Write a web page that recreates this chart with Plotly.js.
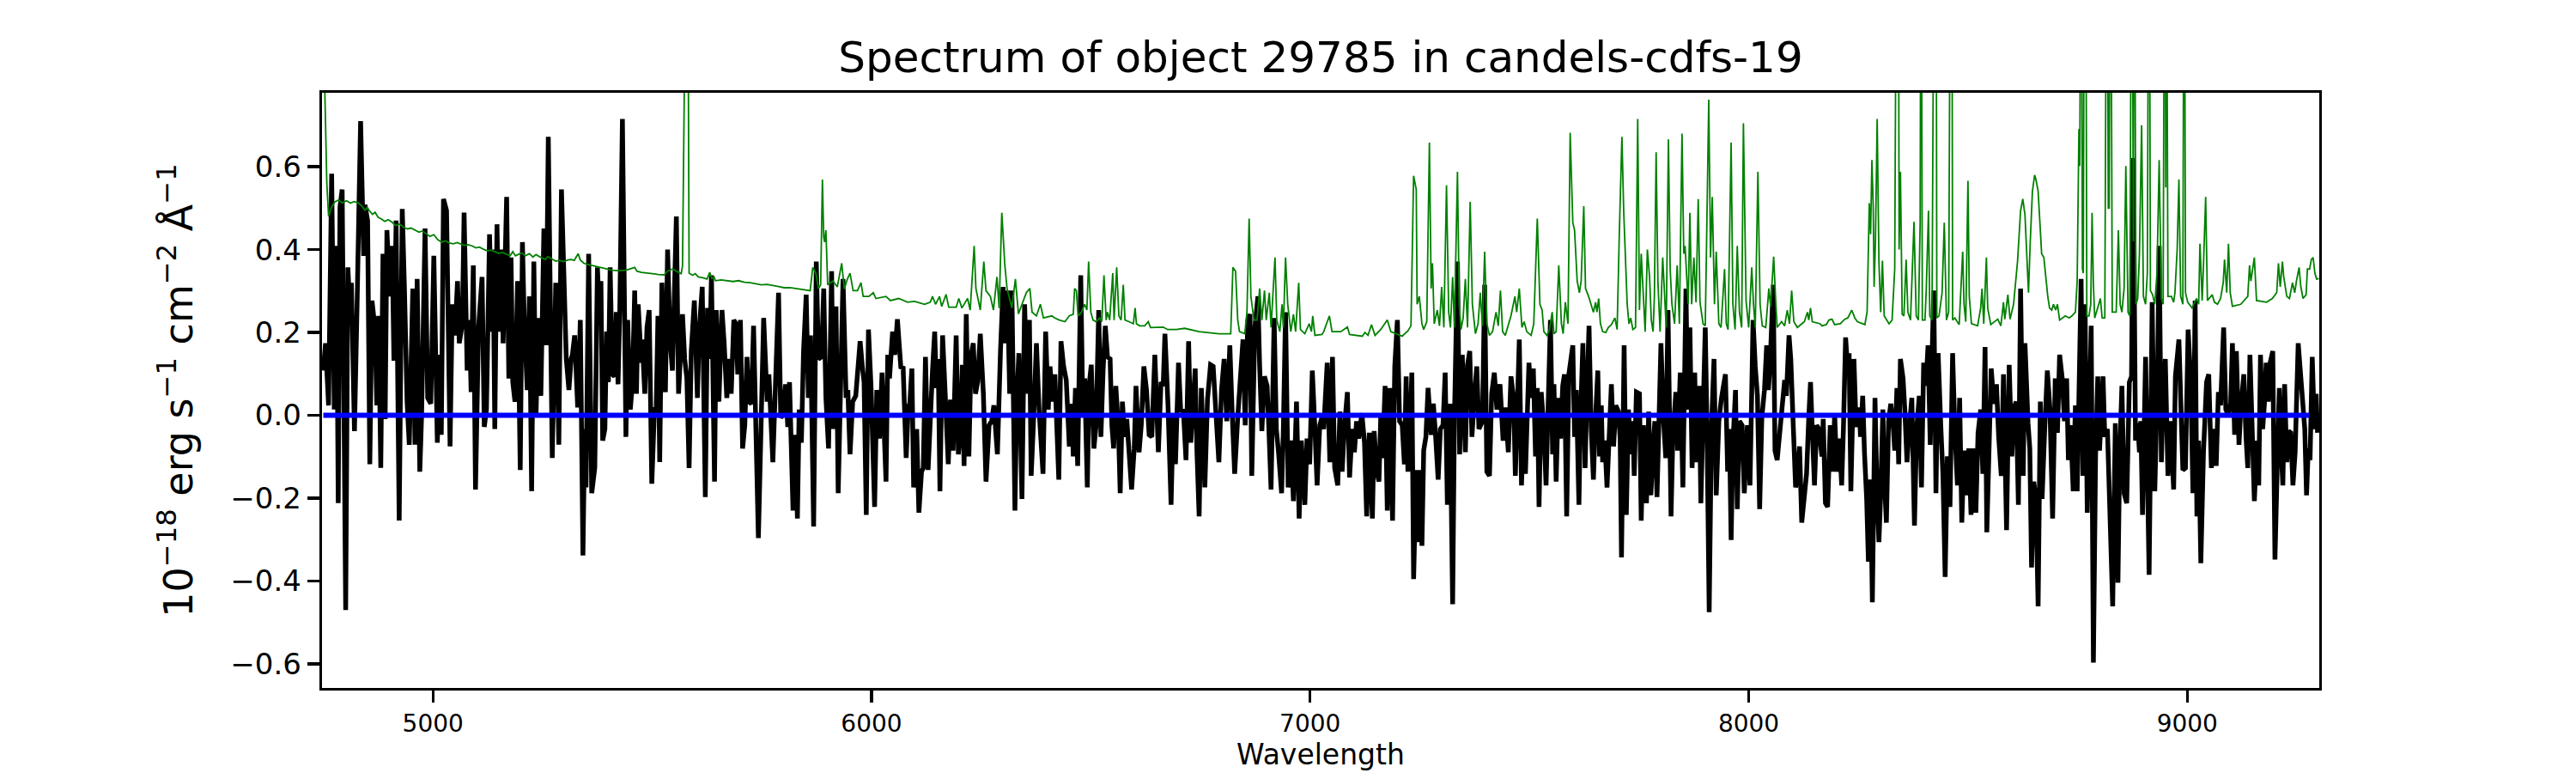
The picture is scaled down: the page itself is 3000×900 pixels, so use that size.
<!DOCTYPE html>
<html>
<head>
<meta charset="utf-8">
<script src="https://cdn.plot.ly/plotly-3.0.1.min.js"></script>
<style>html,body{margin:0;padding:0;background:#fff}#chart{width:3000px;height:900px}</style>
</head>
<body>
<div id="chart"></div>
<script>
// Observed flux (wavelength in Angstrom, flux in 1e-18 erg/s/cm2/A)
const spectrumSamples = [
[4750,0.108],[4755,0.174],[4762,0.024],[4769,0.583],[4775,0.014],[4780,0.409],[4784,-0.212],[4788,0.503],[4793,0.545],[4801,-0.470],[4806,0.357],[4810,0.268],[4814,0.320],[4821,-0.038],[4827,0.268],[4835,0.710],[4842,0.385],[4845,0.508],[4851,0.470],[4856,-0.118],[4861,0.277],[4868,0.207],[4872,0.024],[4876,0.240],[4881,-0.127],[4886,0.390],[4891,-0.009],[4895,0.447],[4902,0.287],[4907,0.409],[4911,0.132],[4916,0.470],[4923,-0.254],[4930,0.498],[4935,0.306],[4941,0.033],[4946,-0.071],[4954,0.306],[4959,-0.071],[4964,0.329],[4970,-0.136],[4974,-0.005],[4982,0.451],[4988,0.042],[4995,0.028],[5002,0.385],[5010,-0.066],[5015,0.146],[5019,-0.047],[5024,0.522],[5031,0.494],[5039,-0.075],[5044,0.268],[5050,0.193],[5056,0.324],[5060,0.174],[5067,0.221],[5071,0.489],[5078,0.108],[5083,0.230],[5087,0.056],[5092,0.362],[5097,-0.179],[5104,0.212],[5112,0.334],[5117,-0.028],[5122,0.014],[5129,0.437],[5134,0.202],[5137,0.400],[5141,-0.033],[5146,0.461],[5150,0.202],[5155,0.400],[5160,0.174],[5168,0.527],[5173,0.089],[5178,0.381],[5182,0.080],[5187,0.033],[5193,0.324],[5199,-0.132],[5204,0.418],[5208,0.235],[5215,0.061],[5220,0.287],[5225,-0.183],[5230,0.371],[5235,-0.005],[5240,0.235],[5246,0.047],[5253,0.451],[5258,0.169],[5263,0.672],[5272,-0.103],[5280,0.320],[5287,-0.071],[5293,0.545],[5304,0.136],[5310,0.061],[5315,0.136],[5318,0.146],
[5323,0.193],[5330,0.019],[5336,0.230],[5342,-0.338],[5346,-0.033],[5349,-0.174],[5355,0.390],[5362,-0.188],[5369,-0.127],[5375,0.357],[5380,0.230],[5383,0.324],[5387,-0.061],[5392,-0.033],[5396,0.202],[5400,0.080],[5404,0.357],[5409,0.099],[5414,0.094],[5418,0.249],[5422,0.075],[5426,0.254],[5432,0.715],[5440,-0.052],[5444,0.230],[5450,0.014],[5455,0.080],[5460,0.301],[5464,0.052],[5468,0.268],[5475,0.127],[5477,0.183],[5483,0.052],[5488,0.212],[5493,0.254],[5499,-0.165],[5505,0.014],[5509,0.014],[5513,0.240],[5517,-0.113],[5522,0.320],[5530,0.056],[5535,0.400],[5541,0.174],[5546,0.108],[5555,0.480],[5560,0.052],[5565,0.136],[5569,0.244],[5574,0.136],[5579,0.089],[5584,-0.127],[5589,0.155],[5596,0.277],[5603,0.042],[5607,0.202],[5614,0.310],[5621,-0.197],[5626,0.259],[5631,0.136],[5635,0.338],[5642,-0.160],[5646,0.254],[5652,0.033],[5659,0.254],[5664,0.174],[5670,0.042],[5676,0.136],[5680,0.052],[5686,0.230],[5691,0.221],[5695,0.099],[5701,0.230],[5706,-0.080],[5711,-0.024],[5716,0.141],[5720,0.033],[5726,0.028],[5731,0.216],[5742,-0.296],[5749,0.061],[5754,0.235],[5762,0.033],[5766,0.099],[5775,-0.113],[5781,0.061],[5788,0.296],[5793,-0.005],[5798,0.000],[5804,0.075],[5809,-0.028],[5813,0.080],[5821,-0.230],[5826,-0.047],[5831,-0.249],[5835,0.014],[5840,-0.066],[5845,0.155],[5851,0.291],[5856,0.042],[5861,0.193],[5868,-0.268],[5874,0.371],[5879,0.136],[5886,0.141],[5891,0.306],
[5896,0.042],[5902,-0.080],[5909,0.348],[5913,-0.033],[5919,0.263],[5924,-0.188],[5929,0.061],[5935,0.329],[5942,0.042],[5946,0.061],[5951,-0.094],[5957,0.033],[5964,0.047],[5970,0.146],[5974,0.179],[5979,0.118],[5983,0.080],[5988,-0.240],[5993,0.207],[5999,0.066],[6007,-0.221],[6012,0.061],[6018,-0.056],[6024,0.103],[6033,-0.160],[6037,0.146],[6041,0.089],[6048,0.202],[6053,0.146],[6059,0.232],[6067,0.113],[6072,0.118],[6079,-0.103],[6084,0.028],[6087,0.024],[6092,0.113],[6096,-0.174],[6103,-0.033],[6108,-0.235],[6114,-0.136],[6118,-0.127],[6123,0.141],[6129,-0.132],[6139,0.108],[6144,0.202],[6148,0.066],[6152,0.136],[6156,-0.183],[6162,0.193],[6168,0.052],[6175,-0.118],[6180,0.038],[6186,-0.085],[6193,0.193],[6198,-0.094],[6203,-0.033],[6207,0.122],[6211,-0.122],[6216,0.244],[6222,-0.099],[6227,0.146],[6232,0.174],[6237,0.052],[6242,0.080],[6248,0.197],[6255,0.052],[6261,-0.160],[6268,-0.024],[6274,-0.014],[6279,0.024],[6287,-0.094],[6294,0.155],[6300,0.310],[6305,0.174],[6310,0.301],[6315,0.052],[6320,0.301],[6327,-0.230],[6331,0.033],[6336,0.150],[6343,-0.202],[6349,0.268],[6355,0.052],[6360,0.230],[6364,-0.146],[6369,-0.024],[6376,0.174],[6382,0.014],[6391,-0.141],[6397,0.202],[6403,0.014],[6407,0.118],[6413,0.033],[6418,0.099],[6427,-0.155],[6432,0.179],[6438,0.118],[6444,0.085],[6451,-0.075],[6456,0.028],[6460,-0.099],
[6465,0.066],[6470,-0.122],[6477,0.338],[6482,0.000],[6486,0.089],[6492,-0.174],[6496,0.071],[6501,0.122],[6507,-0.080],[6512,-0.024],[6518,0.254],[6523,-0.052],[6528,0.108],[6533,0.216],[6538,0.141],[6544,0.136],[6548,-0.024],[6552,-0.080],[6557,0.071],[6563,-0.033],[6567,-0.188],[6572,0.033],[6577,-0.052],[6582,-0.009],[6587,-0.085],[6593,-0.179],[6599,-0.080],[6603,0.071],[6610,-0.089],[6615,-0.024],[6621,0.118],[6627,0.061],[6633,-0.047],[6639,-0.052],[6646,0.146],[6649,0.061],[6654,-0.089],[6660,0.080],[6665,0.071],[6669,0.197],[6676,0.024],[6683,-0.216],[6688,0.005],[6693,-0.118],[6700,0.127],[6705,0.009],[6711,0.014],[6717,-0.108],[6723,0.179],[6728,-0.066],[6734,0.024],[6738,0.113],[6742,-0.089],[6747,-0.244],[6752,0.066],[6760,-0.174],[6766,0.038],[6773,0.122],[6779,0.118],[6786,0.014],[6792,-0.113],[6798,0.061],[6804,0.136],[6810,-0.014],[6817,0.169],[6822,0.014],[6828,-0.141],[6835,-0.005],[6841,0.108],[6847,0.183],[6852,-0.024],[6858,0.230],[6863,0.244],[6867,-0.146],[6874,0.212],[6881,0.287],[6885,0.118],[6890,-0.038],[6896,0.094],[6902,0.071],[6906,-0.033],[6911,-0.179],[6918,0.235],[6923,-0.033],[6928,-0.089],[6935,-0.188],[6939,-0.033],[6944,0.249],[6950,-0.174],[6956,-0.061],[6962,-0.207],[6969,0.033],[6975,-0.249],[6980,-0.061],[6988,-0.216],[6993,-0.056],[6999,-0.118],[7005,0.108],[7011,-0.033],[7016,-0.169],[7022,-0.024],[7027,-0.005],
[7031,-0.033],[7035,0.075],[7039,0.127],[7045,-0.113],[7051,0.141],[7056,-0.127],[7063,-0.169],[7068,0.009],[7073,-0.136],[7078,-0.033],[7085,0.056],[7090,-0.150],[7096,-0.033],[7101,-0.089],[7106,-0.014],[7111,-0.056],[7118,0.005],[7124,-0.066],[7129,-0.244],[7135,-0.042],[7142,-0.249],[7146,-0.038],[7152,-0.136],[7157,-0.160],[7161,-0.005],[7165,-0.103],[7171,0.071],[7176,-0.230],[7182,0.066],[7188,-0.254],[7193,0.118],[7199,0.230],[7204,-0.014],[7210,-0.024],[7215,-0.118],[7219,0.094],[7223,-0.136],[7228,-0.033],[7232,0.103],[7236,-0.395],[7242,-0.132],[7247,-0.306],[7251,-0.132],[7255,-0.315],[7259,-0.085],[7264,-0.052],[7269,0.066],[7276,-0.047],[7281,0.028],[7286,-0.047],[7292,-0.155],[7297,-0.033],[7303,-0.024],[7308,0.103],[7313,-0.216],[7319,0.028],[7325,-0.456],[7329,-0.014],[7336,0.371],[7341,-0.094],[7347,0.146],[7354,-0.089],[7359,0.122],[7364,0.155],[7369,-0.052],[7375,0.052],[7380,0.118],[7385,-0.033],[7393,-0.014],[7398,0.315],[7403,-0.136],[7409,-0.146],[7414,0.052],[7420,0.103],[7426,0.014],[7433,0.075],[7440,-0.061],[7445,0.019],[7452,-0.089],[7458,0.094],[7464,0.042],[7468,-0.146],[7473,0.061],[7477,0.183],[7482,-0.169],[7487,-0.005],[7491,-0.141],[7499,0.127],[7504,0.042],[7509,0.113],[7514,-0.099],[7518,0.066],[7522,-0.221],[7527,0.056],[7533,-0.033],[7538,-0.169],[7543,0.033],[7548,0.230],[7553,-0.094],[7556,0.075],[7561,-0.160],[7566,0.042],[7571,-0.056],[7576,0.071],[7580,0.099],[7585,-0.244],[7590,0.099],
[7599,0.169],[7603,-0.052],[7607,0.061],[7613,-0.216],[7616,-0.024],[7622,0.174],[7627,-0.127],[7631,0.042],[7636,0.216],[7641,-0.033],[7646,-0.155],[7650,-0.024],[7656,0.108],[7660,-0.099],[7664,0.024],[7667,-0.113],[7672,-0.061],[7677,-0.174],[7682,-0.052],[7687,0.075],[7692,-0.075],[7697,0.024],[7703,0.009],[7707,-0.056],[7710,-0.343],[7716,0.169],[7721,-0.240],[7726,0.014],[7731,-0.094],[7736,-0.014],[7739,-0.146],[7744,0.056],[7751,0.052],[7755,-0.254],[7760,-0.024],[7767,-0.212],[7772,0.009],[7777,-0.193],[7781,-0.099],[7786,-0.014],[7791,-0.197],[7795,-0.024],[7800,0.174],[7806,-0.014],[7811,-0.103],[7816,0.254],[7823,-0.244],[7827,-0.052],[7834,0.056],[7838,-0.085],[7844,0.103],[7850,-0.174],[7857,0.306],[7861,0.014],[7866,0.212],[7871,-0.127],[7877,0.103],[7881,-0.113],[7887,0.071],[7891,-0.212],[7896,0.071],[7901,0.212],[7905,-0.033],[7910,-0.475],[7915,-0.033],[7921,0.136],[7926,-0.193],[7932,-0.014],[7938,0.042],[7947,0.099],[7952,-0.136],[7956,-0.033],[7960,-0.301],[7964,-0.071],[7970,0.061],[7974,-0.226],[7979,-0.014],[7985,-0.024],[7990,-0.188],[7997,-0.024],[8003,-0.169],[8010,0.230],[8015,0.118],[8020,0.047],[8025,-0.226],[8030,-0.005],[8036,0.061],[8041,0.169],[8045,0.061],[8049,0.127],[8056,0.315],[8060,-0.085],[8065,-0.108],[8071,-0.042],[8076,0.014],[8082,0.085],[8086,0.047],[8092,0.193],[8096,0.136],[8101,-0.033],[8107,-0.174],[8111,-0.146],[8116,-0.075],[8121,-0.259],[8126,-0.202],[8132,-0.141],[8137,-0.005],[8141,0.080],[8145,-0.033],[8150,-0.169],[8155,-0.024],[8160,-0.033],
[8167,-0.099],[8170,-0.009],[8175,-0.212],[8180,-0.221],[8186,-0.024],[8192,-0.136],[8196,0.005],[8201,-0.136],[8207,-0.056],[8212,-0.169],[8216,-0.033],[8221,0.188],[8226,0.108],[8229,0.150],[8233,-0.183],[8240,0.136],[8245,-0.028],[8252,0.019],[8255,-0.052],[8260,0.047],[8264,-0.089],[8269,-0.202],[8273,-0.353],[8278,-0.155],[8282,-0.451],[8288,0.042],[8293,-0.202],[8297,-0.306],[8301,-0.188],[8306,0.014],[8309,-0.146],[8314,-0.259],[8319,-0.014],[8324,0.028],[8330,-0.033],[8333,-0.085],[8338,0.066],[8342,-0.118],[8346,0.136],[8352,0.089],[8356,0.014],[8361,-0.113],[8366,-0.033],[8372,0.042],[8378,-0.266],[8383,-0.033],[8389,0.047],[8394,-0.174],[8399,0.127],[8404,0.071],[8409,0.169],[8414,-0.071],[8418,0.136],[8422,0.301],[8427,-0.188],[8432,0.150],[8438,-0.024],[8443,-0.146],[8448,-0.390],[8453,-0.099],[8459,-0.221],[8465,0.150],[8470,-0.033],[8476,-0.169],[8481,0.042],[8486,-0.259],[8491,-0.085],[8496,-0.193],[8502,-0.080],[8507,-0.240],[8513,-0.080],[8518,-0.235],[8523,-0.042],[8529,0.014],[8534,-0.141],[8539,0.165],[8543,-0.282],[8549,-0.024],[8553,0.113],[8559,0.028],[8565,0.075],[8570,-0.052],[8576,-0.146],[8581,0.099],[8588,-0.277],[8594,0.122],[8600,-0.099],[8605,0.019],[8610,0.033],[8615,-0.216],[8620,0.306],[8626,-0.146],[8630,0.174],[8637,-0.019],[8641,-0.080],[8645,-0.367],[8650,-0.160],[8655,-0.202],[8660,-0.461],[8665,0.033],[8669,-0.202],[8675,-0.033],[8681,0.108],[8687,0.014],[8693,-0.249],[8699,0.089],[8704,-0.042],[8709,0.146],[8715,0.089],[8720,-0.014],[8725,0.089],[8729,-0.108],
[8734,-0.024],[8740,-0.183],[8745,0.024],[8749,-0.183],[8753,0.061],[8758,0.329],[8762,-0.146],[8767,0.268],[8772,-0.235],[8776,-0.005],[8781,0.216],[8786,-0.597],[8791,-0.099],[8796,0.094],[8800,-0.085],[8808,0.094],[8812,-0.052],[8818,-0.033],[8823,-0.207],[8830,-0.461],[8836,-0.019],[8842,-0.404],[8846,-0.094],[8851,0.071],[8856,-0.188],[8862,-0.212],[8868,0.080],[8873,0.094],[8877,0.621],[8882,-0.061],[8887,-0.019],[8891,-0.089],[8894,-0.014],[8898,-0.240],[8905,0.141],[8913,-0.385],[8920,0.273],[8926,-0.183],[8932,0.080],[8936,0.409],[8941,-0.113],[8945,0.052],[8950,0.136],[8956,-0.146],[8962,-0.014],[8969,-0.179],[8973,0.094],[8981,0.183],[8985,0.042],[8990,-0.132],[8996,-0.127],[9002,0.207],[9008,0.080],[9013,-0.188],[9018,0.277],[9022,-0.244],[9026,-0.061],[9031,-0.357],[9037,-0.089],[9044,0.080],[9049,0.099],[9055,-0.127],[9060,-0.033],[9066,-0.122],[9071,0.056],[9076,0.024],[9083,0.212],[9088,0.014],[9094,0.000],[9099,0.028],[9103,0.174],[9108,-0.047],[9112,0.155],[9118,-0.071],[9122,0.014],[9129,0.099],[9134,-0.052],[9138,-0.127],[9143,0.146],[9148,-0.033],[9153,-0.207],[9159,-0.061],[9163,-0.169],[9167,0.146],[9172,-0.033],[9176,0.028],[9180,0.127],[9185,0.033],[9189,0.127],[9195,0.155],[9200,-0.348],[9206,-0.089],[9210,0.066],[9214,-0.080],[9218,-0.169],[9222,0.075],[9227,-0.113],[9231,-0.038],[9236,-0.042],[9241,-0.169],[9246,-0.089],[9253,0.174],[9258,0.094],[9263,0.005],[9268,-0.033],[9272,-0.193],[9276,-0.080],[9280,-0.108],[9285,0.141],[9290,-0.033],[9294,0.052],[9297,-0.042]
];

// Noise / sky spectrum (green)
const noiseSamples = [
[4750,0.95],[4754,0.78],[4758,0.56],[4762,0.48],[4768,0.50],[4776,0.515],[4785,0.52],[4793,0.513],[4803,0.518],[4812,0.512],[4820,0.516],[4829,0.513],[4838,0.505],[4845,0.495],[4850,0.502],[4855,0.494],[4862,0.485],[4868,0.49],[4875,0.478],[4881,0.475],[4890,0.468],[4898,0.472],[4907,0.466],[4915,0.458],[4924,0.462],[4933,0.454],[4942,0.45],[4950,0.452],[4959,0.447],[4968,0.442],[4976,0.445],[4985,0.438],[4993,0.432],[5002,0.436],[5011,0.424],[5020,0.418],[5028,0.421],[5037,0.416],[5046,0.414],[5055,0.417],[5063,0.414],[5072,0.41],[5080,0.412],[5089,0.409],[5098,0.404],[5106,0.406],[5115,0.401],[5124,0.397],[5132,0.399],[5141,0.395],[5150,0.391],[5159,0.393],[5168,0.388],[5176,0.385],[5182,0.395],[5188,0.385],[5194,0.388],[5203,0.392],[5210,0.385],[5220,0.390],[5228,0.382],[5235,0.388],[5246,0.381],[5256,0.376],[5262,0.383],[5272,0.376],[5280,0.372],[5288,0.374],[5298,0.371],[5308,0.375],
[5315,0.376],[5322,0.374],[5331,0.39],[5336,0.375],[5344,0.367],[5357,0.363],[5370,0.360],[5383,0.357],[5396,0.354],[5409,0.350],[5422,0.349],[5440,0.350],[5460,0.357],[5465,0.348],[5475,0.345],[5488,0.343],[5501,0.342],[5514,0.340],[5527,0.339],[5535,0.348],[5546,0.353],[5556,0.348],[5566,0.342],[5569,0.36],[5573,1.5],[5580,1.5],[5584,0.343],[5592,0.338],[5598,0.342],[5605,0.334],[5615,0.332],[5625,0.329],[5631,0.345],[5636,0.330],[5641,0.334],[5644,0.325],[5657,0.327],[5670,0.325],[5684,0.323],[5697,0.325],[5710,0.321],[5723,0.320],[5736,0.318],[5749,0.315],[5762,0.316],[5775,0.314],[5788,0.311],[5801,0.308],[5814,0.308],[5827,0.306],[5843,0.303],[5860,0.301],[5866,0.357],[5873,0.343],[5879,0.306],[5884,0.315],[5888,0.569],[5891,0.43],
[5893,0.418],[5896,0.447],[5900,0.315],[5912,0.324],[5922,0.310],[5932,0.367],[5938,0.305],[5945,0.329],[5951,0.343],[5958,0.301],[5968,0.301],[5976,0.320],[5981,0.287],[5994,0.287],[6004,0.296],[6010,0.282],[6033,0.287],[6043,0.277],[6062,0.282],[6082,0.273],[6098,0.275],[6121,0.268],[6134,0.273],[6139,0.287],[6146,0.268],[6155,0.287],[6160,0.263],[6170,0.292],[6176,0.261],[6193,0.261],[6199,0.282],[6206,0.259],[6219,0.282],[6225,0.254],[6234,0.409],[6238,0.306],[6248,0.254],[6256,0.371],[6261,0.301],[6271,0.287],[6278,0.254],[6286,0.334],[6291,0.259],[6297,0.489],[6304,0.362],[6309,0.306],[6320,0.259],[6328,0.329],[6335,0.245],[6353,0.296],[6361,0.306],[6366,0.249],[6376,0.240],[6385,0.268],[6392,0.235],[6411,0.240],[6418,0.235],[6428,0.230],[6441,0.226],[6451,0.240],[6460,0.244],
[6463,0.306],[6467,0.301],[6471,0.240],[6479,0.249],[6486,0.268],[6491,0.254],[6495,0.371],[6500,0.249],[6505,0.230],[6512,0.226],[6520,0.235],[6525,0.226],[6530,0.338],[6535,0.230],[6538,0.249],[6543,0.230],[6550,0.343],[6553,0.230],[6559,0.357],[6564,0.240],[6569,0.230],[6574,0.315],[6578,0.230],[6587,0.226],[6597,0.221],[6601,0.259],[6604,0.221],[6611,0.216],[6623,0.216],[6631,0.226],[6636,0.212],[6665,0.213],[6675,0.207],[6695,0.207],[6714,0.210],[6747,0.202],[6792,0.197],[6819,0.197],[6824,0.357],[6830,0.348],[6835,0.230],[6839,0.202],[6851,0.197],[6856,0.249],[6861,0.475],[6865,0.287],[6872,0.230],[6879,0.230],[6885,0.306],[6890,0.230],[6896,0.301],[6900,0.230],[6907,0.296],[6911,0.212],[6920,0.381],[6924,0.230],[6931,0.202],[6936,0.268],[6939,0.212],[6944,0.381],[6949,0.268],[6956,0.202],[6962,0.244],[6967,0.202],[6974,0.320],[6978,0.207],[6988,0.197],[6998,0.221],[7003,0.202],[7006,0.240],[7011,0.193],[7027,0.195],
[7031,0.202],[7044,0.240],[7050,0.202],[7070,0.202],[7085,0.213],[7090,0.195],[7119,0.191],[7125,0.200],[7132,0.193],[7140,0.219],[7148,0.193],[7161,0.207],[7176,0.230],[7184,0.202],[7210,0.191],[7223,0.204],[7230,0.216],[7236,0.578],[7242,0.545],[7244,0.268],[7249,0.287],[7255,0.221],[7259,0.207],[7266,0.226],[7272,0.658],[7276,0.306],[7279,0.367],[7283,0.221],[7290,0.254],[7295,0.216],[7300,0.310],[7305,0.212],[7311,0.555],[7316,0.249],[7320,0.212],[7325,0.334],[7329,0.212],[7336,0.588],[7340,0.268],[7344,0.207],[7349,0.235],[7354,0.329],[7359,0.212],[7365,0.515],[7370,0.268],[7377,0.197],[7383,0.221],[7388,0.296],[7393,0.216],[7398,0.395],[7403,0.221],[7409,0.193],[7416,0.202],[7424,0.249],[7429,0.216],[7434,0.301],[7439,0.202],[7445,0.193],[7458,0.240],[7467,0.287],[7471,0.249],[7477,0.306],[7483,0.212],[7488,0.226],[7494,0.202],[7504,0.193],[7510,0.221],[7518,0.475],[7524,0.268],[7529,0.254],[7533,0.202],[7540,0.193],[7546,0.207],[7552,0.249],[7556,0.197],[7561,0.202],[7567,0.362],[7573,0.221],[7577,0.197],[7582,0.273],[7588,0.221],[7593,0.682],
[7599,0.465],[7603,0.447],[7609,0.324],[7614,0.296],[7618,0.324],[7624,0.505],[7628,0.306],[7635,0.287],[7641,0.268],[7646,0.249],[7651,0.273],[7654,0.249],[7658,0.282],[7662,0.221],[7667,0.202],[7674,0.200],[7680,0.212],[7687,0.219],[7695,0.235],[7700,0.207],[7705,0.437],[7711,0.672],[7715,0.494],[7720,0.324],[7723,0.268],[7727,0.221],[7731,0.235],[7736,0.207],[7742,0.212],[7747,0.715],[7751,0.254],[7755,0.390],[7760,0.296],[7764,0.202],[7769,0.400],[7774,0.334],[7778,0.230],[7782,0.202],[7785,0.287],[7789,0.635],[7793,0.324],[7798,0.202],[7804,0.381],[7809,0.268],[7812,0.212],[7817,0.666],[7821,0.353],[7825,0.268],[7831,0.221],[7837,0.362],[7842,0.221],[7848,0.680],[7852,0.390],[7855,0.409],[7859,0.315],[7862,0.268],[7866,0.489],[7870,0.268],[7875,0.381],[7880,0.273],[7885,0.522],[7889,0.273],[7896,0.221],[7901,0.216],[7904,0.418],[7909,0.762],[7913,0.381],[7917,0.527],[7922,0.268],[7926,0.395],[7932,0.221],[7937,0.212],[7945,0.353],[7949,0.221],[7953,0.207],[7960,0.658],[7964,0.268],[7969,0.207],[7974,0.409],[7979,0.249],[7984,0.212],[7988,0.705],[7994,0.277],[8000,0.212],[8007,0.357],[8011,0.268],[8015,0.212],[8021,0.588],[8026,0.268],[8031,0.216],[8039,0.212],[8046,0.306],[8050,0.263],[8057,0.383],[8062,0.268],[8065,0.212],[8075,0.226],[8082,0.216],[8088,0.254],[8093,0.221],[8098,0.301],[8103,0.226],[8111,0.212],[8127,0.226],[8134,0.249],[8137,0.230],[8141,0.259],[8145,0.226],[8163,0.221],
[8167,0.216],[8177,0.219],[8183,0.230],[8190,0.232],[8196,0.219],[8209,0.221],[8219,0.232],[8226,0.235],[8235,0.254],[8242,0.235],[8248,0.226],[8265,0.219],[8270,0.249],[8275,0.512],[8278,0.437],[8281,0.616],[8284,0.503],[8286,0.310],[8289,0.418],[8293,0.715],[8297,0.371],[8301,0.249],[8305,0.373],[8309,0.240],[8320,0.221],[8327,0.230],[8333,0.353],[8338,1.5],[8341,1.5],[8343,0.400],[8346,0.588],[8350,0.244],[8354,0.240],[8359,0.376],[8363,0.249],[8369,0.230],[8372,0.324],[8377,0.467],[8382,0.240],[8387,0.230],[8391,0.465],[8393,1.5],[8396,0.230],[8402,0.230],[8405,0.306],[8410,0.494],[8413,0.240],[8418,0.230],[8424,1.5],[8427,1.5],[8429,0.235],[8434,0.240],[8441,0.296],[8446,0.465],[8451,0.230],[8456,0.249],[8461,1.5],[8463,1.5],[8465,0.230],[8470,0.235],[8480,0.219],[8488,0.395],[8491,0.268],[8495,0.226],[8500,0.566],[8503,0.287],[8508,0.221],[8522,0.216],[8529,0.259],[8532,0.306],[8536,0.221],[8542,0.381],[8545,0.259],[8552,0.219],[8568,0.232],[8575,0.216],[8581,0.273],[8584,0.232],[8591,0.291],[8596,0.232],[8604,0.268],[8613,0.371],[8620,0.494],[8625,0.522],[8630,0.484],[8635,0.343],[8638,0.296],[8642,0.418],[8647,0.541],[8652,0.580],[8655,0.569],[8660,0.541],[8664,0.456],[8668,0.390],[8673,0.381],[8678,0.324],[8682,0.287],[8686,0.259],[8691,0.254],[8695,0.268],[8700,0.254],[8704,0.268],[8709,0.230],[8722,0.240],[8731,0.235],
[8737,0.240],[8745,0.249],[8749,0.324],[8753,0.691],[8755,0.602],[8758,1.5],[8761,0.353],[8763,0.343],[8766,1.5],[8768,1.5],[8771,0.240],[8776,0.240],[8780,0.268],[8783,0.489],[8786,0.315],[8789,0.235],[8802,0.282],[8806,0.235],[8812,0.235],[8817,1.5],[8820,0.50],[8822,0.50],[8825,1.5],[8829,0.249],[8838,0.249],[8843,0.447],[8847,0.268],[8851,0.249],[8856,0.306],[8860,0.602],[8865,0.249],[8869,0.240],[8874,1.5],[8877,0.42],[8879,1.5],[8883,0.268],[8887,0.282],[8891,0.390],[8896,0.700],[8900,0.287],[8905,0.268],[8909,0.343],[8913,1.5],[8916,0.301],[8921,0.291],[8926,0.268],[8931,0.343],[8936,0.616],[8941,0.282],[8945,0.268],[8949,1.5],[8951,0.55],[8952,1.5],[8956,0.287],[8964,0.287],[8969,0.273],[8972,0.296],[8977,0.400],[8981,0.569],[8985,0.287],[8990,0.268],[8993,1.5],[8996,0.296],[9001,0.273],[9011,0.259],[9021,0.282],[9026,0.268],[9029,0.414],[9034,0.277],[9037,0.362],[9042,0.527],[9046,0.277],[9057,0.291],[9062,0.273],[9069,0.268],[9076,0.282],[9082,0.320],[9085,0.376],[9090,0.296],[9094,0.414],[9098,0.296],[9103,0.263],[9122,0.268],[9138,0.287],[9142,0.362],[9145,0.324],[9148,0.343],[9153,0.381],[9158,0.277],[9181,0.273],[9194,0.282],[9204,0.296],[9208,0.367],[9212,0.310],[9217,0.371],[9220,0.334],[9227,0.287],[9233,0.282],[9240,0.320],[9245,0.296],[9249,0.324],[9255,0.357],[9259,0.310],[9264,0.282],[9271,0.291],[9274,0.353],[9279,0.353],[9283,0.376],[9287,0.381],[9291,0.343],[9295,0.329],[9300,0.33]
];

// Zero level (blue)
const zeroLevelWave = [4750, 9278];
const zeroLevelFlux = [0, 0];

// Axis ticks
const xTickValues = [5000, 6000, 7000, 8000, 9000];
const yTickValues = [-0.6, -0.4, -0.2, 0.0, 0.2, 0.4, 0.6];

const spectrumWave = spectrumSamples.map(p => p[0]);
const spectrumFlux = spectrumSamples.map(p => p[1]);
const noiseWave = noiseSamples.map(p => p[0]);
const noiseFlux = noiseSamples.map(p => p[1]);

const FONT = 'DejaVu Sans, Liberation Sans, sans-serif';

const traces = [
  {x: spectrumWave, y: spectrumFlux, type: 'scatter', mode: 'lines',
   line: {color: '#000000', width: 5.5}, hoverinfo: 'skip', showlegend: false},
  {x: noiseWave, y: noiseFlux, type: 'scatter', mode: 'lines',
   line: {color: '#008000', width: 1.8}, hoverinfo: 'skip', showlegend: false},
  {x: zeroLevelWave, y: zeroLevelFlux, type: 'scatter', mode: 'lines',
   line: {color: '#0000ff', width: 6}, hoverinfo: 'skip', showlegend: false}
];

const layout = {
  width: 3000, height: 900,
  paper_bgcolor: '#ffffff', plot_bgcolor: '#ffffff',
  font: {family: FONT, color: '#000000'},
  margin: {l: 375, r: 299, t: 108, b: 99, pad: 0},
  showlegend: false,
  title: {
    text: 'Spectrum of object 29785 in candels-cdfs-19',
    font: {family: FONT, size: 50, color: '#000000'},
    x: 0.5, xref: 'paper', xanchor: 'center',
    y: 1 - 84/900, yref: 'container', yanchor: 'bottom'
  },
  xaxis: {
    range: [4747, 9301], autorange: false,
    tickvals: xTickValues, ticktext: xTickValues.map(String),
    ticks: 'outside', ticklen: 14, tickwidth: 3.3, tickcolor: '#000000',
    showline: true, linewidth: 3.3, linecolor: '#000000', mirror: true,
    showgrid: false, zeroline: false,
    tickfont: {family: FONT, size: 28, color: '#000000'},
    title: {text: 'Wavelength', font: {family: FONT, size: 33, color: '#000000'}, standoff: 8}
  },
  yaxis: {
    range: [-0.658, 0.7785], autorange: false,
    tickvals: yTickValues, tickformat: '.1f',
    ticks: 'outside', ticklen: 14, tickwidth: 3.3, tickcolor: '#000000',
    showline: true, linewidth: 3.3, linecolor: '#000000', mirror: true,
    showgrid: false, zeroline: false,
    tickfont: {family: FONT, size: 34, color: '#000000'},
    title: {text: '10<sup>\u221218</sup> erg s<sup>\u22121</sup> cm<sup>\u22122</sup> \u00c5<sup>\u22121</sup>',
            font: {family: FONT, size: 46, color: '#000000'}, standoff: 30}
  }
};

Plotly.newPlot('chart', traces, layout, {staticPlot: true, displayModeBar: false});
</script>
</body>
</html>
